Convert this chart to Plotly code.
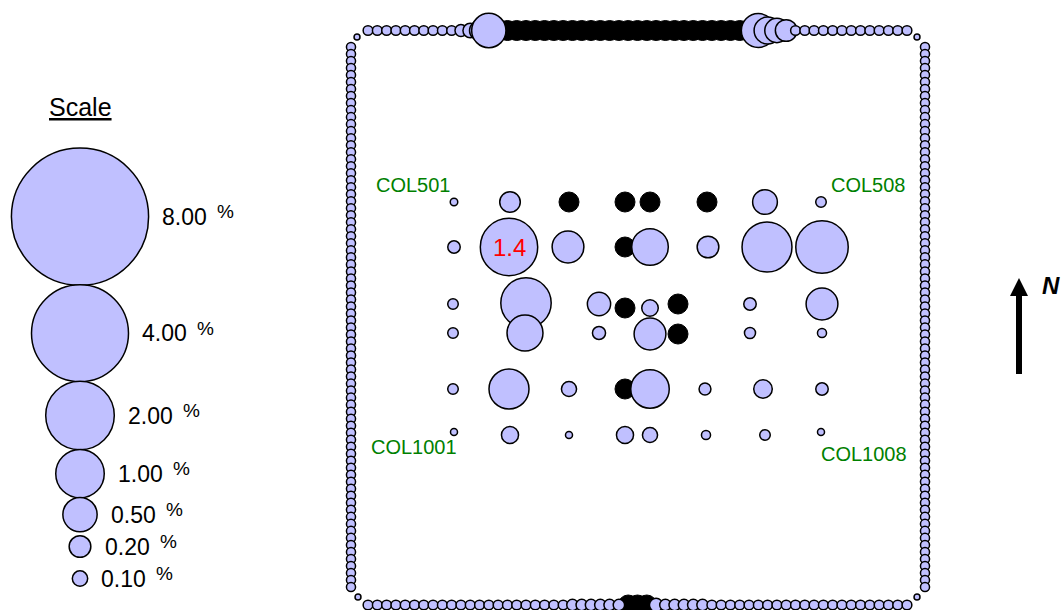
import numpy as np
import plotly.graph_objects as go

ND = None  # not detected -> black dot

# interior wells: easting / northing in site units (origin = SW corner of the ring)
well_e = [103, 159, 218, 274, 299, 356, 414, 470,
          103, 158, 217, 274, 299, 357, 416, 471,
          102, 175, 248, 274, 299, 327, 399, 471,
          102, 174, 248, 299, 327, 399, 471,
          102, 158, 218, 274, 299, 354, 412, 471,
          103, 159, 218, 274, 299, 355, 414, 470]
well_n = [403, 403, 403, 403, 403, 403, 403, 403,
          358, 358, 358, 358, 358, 358, 358, 358,
          301, 302, 301, 297, 297, 301, 301, 301,
          272, 272, 272, 271, 271, 272, 272,
          216, 216, 216, 216, 216, 216, 216, 216,
          173, 170, 170, 170, 170, 170, 170, 173]
well_val = [0.024, 0.18, ND, ND, ND, ND, 0.26, 0.047,
            0.066, 1.4, 0.43, ND, 0.57, 0.2, 1.06, 1.17,
            0.047, 1.08, 0.23, ND, 0.116, ND, 0.066, 0.43,
            0.047, 0.55, 0.073, 0.43, ND, 0.052, 0.035,
            0.047, 0.68, 0.097, ND, 0.63, 0.06, 0.146, 0.066,
            0.021, 0.124, 0.021, 0.124, 0.097, 0.035, 0.047, 0.021]

well_names = ["COL501", "COL508", "COL1001", "COL1008"]
name_e = [62, 517, 63, 513]
name_n = [420, 420, 158, 151]

# perimeter stations (west->east on north/south lines, north->south on west/east lines)
top_vals = [0.04, 0.04, 0.04, 0.04, 0.04, 0.04, 0.04, 0.04, 0.04, 0.04,
            0.06, 0.09, 0.17, 0.5,
            ND, ND, ND, ND, ND, ND, ND, ND, ND, ND, ND, ND, ND, ND,
            ND, ND, ND, ND, ND, ND, ND, ND, ND, ND, ND, ND, ND, ND,
            0.49, 0.31, 0.25, 0.2,
            0.04, 0.04, 0.04, 0.04, 0.04, 0.04, 0.04, 0.04, 0.04, 0.04, 0.04, 0.04, 0.04]
bottom_vals = [0.04, 0.04, 0.04, 0.04, 0.04, 0.04, 0.04, 0.04, 0.04, 0.04, 0.04,
               0.04, 0.04, 0.04, 0.04, 0.04, 0.04, 0.04, 0.04, 0.04, 0.04, 0.04,
               0.055, 0.055, 0.055, 0.055, 0.055, 0.055,
               ND, ND, ND,
               0.075, 0.055, 0.055, 0.055, 0.055, 0.055,
               0.04, 0.04, 0.04, 0.04, 0.04, 0.04, 0.04, 0.04, 0.04, 0.04, 0.04,
               0.04, 0.04, 0.04, 0.04, 0.04, 0.04, 0.04, 0.04, 0.04, 0.04, 0.04]
left_vals = [0.035, 0.035, 0.035, 0.035, 0.035, 0.035, 0.035, 0.035, 0.035, 0.035, 0.035, 0.035, 0.035,
             0.035, 0.035, 0.035, 0.035, 0.035, 0.035, 0.035, 0.035, 0.035, 0.035, 0.035, 0.035, 0.035,
             0.035, 0.035, 0.035, 0.035, 0.035, 0.035, 0.035, 0.035, 0.035, 0.035, 0.035, 0.035, 0.035,
             0.035, 0.035, 0.035, 0.035, 0.035, 0.035, 0.035, 0.035, 0.035, 0.035, 0.035, 0.035, 0.035,
             0.035, 0.035, 0.035, 0.035, 0.035, 0.035, 0.035, 0.035, 0.035, 0.035, 0.035, 0.035, 0.035,
             0.035, 0.035, 0.035, 0.035, 0.035, 0.035, 0.035, 0.035, 0.035, 0.035, 0.035, 0.035, 0.035]
right_vals = [0.035, 0.035, 0.035, 0.035, 0.035, 0.035, 0.035, 0.035, 0.035, 0.035, 0.035, 0.035, 0.035,
              0.035, 0.035, 0.035, 0.035, 0.035, 0.035, 0.035, 0.035, 0.035, 0.035, 0.035, 0.035, 0.035,
              0.035, 0.035, 0.035, 0.035, 0.035, 0.035, 0.035, 0.035, 0.035, 0.035, 0.035, 0.035, 0.035,
              0.035, 0.035, 0.035, 0.035, 0.035, 0.035, 0.035, 0.035, 0.035, 0.035, 0.035, 0.035, 0.035,
              0.035, 0.035, 0.035, 0.035, 0.035, 0.035, 0.035, 0.035, 0.035, 0.035, 0.035, 0.035, 0.035,
              0.035, 0.035, 0.035, 0.035, 0.035, 0.035, 0.035, 0.035, 0.035, 0.035, 0.035, 0.035, 0.035]
corner_e = [6, 566, 7, 566]
corner_n = [568, 568, 8, 8]
corner_vals = [0.015, 0.015, 0.015, 0.015]

# scale key
scale_vals = [8.0, 4.0, 2.0, 1.0, 0.5, 0.2, 0.1]

K = 48.5          # marker diameter (px) per sqrt(%)
FILL = "#C0C0FF"
FONT = "Liberation Sans, Arial, sans-serif"

# ring geometry
RING_W = 574
RING_N_TOP = 574.5
top_e = np.linspace(17, 556, len(top_vals))
side_n = np.linspace(558, 18, len(left_vals))

pe, pn, pv = [], [], []
pe += [0] * len(left_vals); pn += list(side_n); pv += left_vals
pe += [RING_W] * len(right_vals); pn += list(side_n); pv += right_vals
pe += corner_e; pn += corner_n; pv += corner_vals
pe += list(top_e); pn += [0] * len(bottom_vals); pv += bottom_vals
pe += list(top_e); pn += [RING_N_TOP] * len(top_vals); pv += top_vals
pe += well_e; pn += well_n; pv += well_val

det = [i for i, v in enumerate(pv) if v is not None]
nd = [i for i, v in enumerate(pv) if v is None]

fig = go.Figure()

fig.add_trace(go.Scatter(
    x=[pe[i] for i in nd], y=[pn[i] for i in nd], mode="markers",
    marker=dict(size=20, color="black", line=dict(color="black", width=1)),
    hoverinfo="skip", showlegend=False))

fig.add_trace(go.Scatter(
    x=[pe[i] for i in det], y=[pn[i] for i in det], mode="markers",
    marker=dict(size=K * np.sqrt([pv[i] for i in det]), sizemode="diameter",
                color=FILL, line=dict(color="black", width=1.5), opacity=1),
    hoverinfo="skip", showlegend=False))

# scale key, stacked circles (pixel-like axes x2/y2)
r = [K * np.sqrt(v) / 2 + 0.75 for v in scale_vals]
cy = [216.7]
for i in range(1, len(r)):
    cy.append(cy[-1] + max(r[i - 1] + r[i] - 2, 32))
key_x = 80
fig.add_trace(go.Scatter(
    x=[key_x] * len(scale_vals), y=cy, mode="markers", xaxis="x2", yaxis="y2",
    marker=dict(size=K * np.sqrt(scale_vals), sizemode="diameter", opacity=1,
                color=FILL, line=dict(color="black", width=1.5)),
    hoverinfo="skip", showlegend=False))

ann = []
for v, y, rr in zip(scale_vals, cy, r):
    x0 = key_x + rr + 11
    ann.append(dict(x=x0, y=y, xref="x2", yref="y2", text=f"{v:.2f}", showarrow=False,
                    xanchor="left", yanchor="middle", font=dict(size=23, color="black")))
    ann.append(dict(x=x0 + 55, y=y - 5, xref="x2", yref="y2", text="%", showarrow=False,
                    xanchor="left", yanchor="middle", font=dict(size=19, color="black")))
ann.append(dict(x=80, y=107, xref="x2", yref="y2", text="<u>Scale</u>", showarrow=False,
                xanchor="center", yanchor="middle", font=dict(size=25, color="black")))

for t, e, n in zip(well_names, name_e, name_n):
    ann.append(dict(x=e, y=n, xref="x", yref="y", text=t, showarrow=False,
                    xanchor="center", yanchor="middle", font=dict(size=20, color="#008000")))

# highest concentration gets its value written in red
imax = max(range(len(well_val)), key=lambda i: -1 if well_val[i] is None else well_val[i])
ann.append(dict(x=well_e[imax], y=well_n[imax], xref="x", yref="y",
                text=f"{well_val[imax]:.1f}", showarrow=False,
                xanchor="center", yanchor="middle", font=dict(size=24, color="red")))

ann.append(dict(x=1062, y=285, xref="x2", yref="y2", text="<b><i>N</i></b>", showarrow=False,
                xanchor="right", yanchor="middle", font=dict(size=24, color="black")))

shapes = [
    dict(type="line", xref="x2", yref="y2", x0=1019, x1=1019, y0=374, y1=292,
         line=dict(color="black", width=6)),
    dict(type="path", xref="x2", yref="y2", path="M 1010 296 L 1028 296 L 1019 278 Z",
         fillcolor="black", line=dict(color="black", width=0)),
]

fig.update_layout(
    width=1063, height=610, margin=dict(l=0, r=0, t=0, b=0),
    paper_bgcolor="white", plot_bgcolor="white",
    font=dict(family=FONT),
    xaxis=dict(range=[-351, 712], visible=False, fixedrange=True),
    yaxis=dict(range=[-5, 605], visible=False, fixedrange=True),
    xaxis2=dict(range=[0, 1063], overlaying="x", anchor="y2", visible=False),
    yaxis2=dict(range=[610, 0], overlaying="y", anchor="x2", visible=False),
    annotations=ann, shapes=shapes,
)

fig.write_html("out.html", config={"displayModeBar": False},
               post_script="document.body.style.margin='0';")
